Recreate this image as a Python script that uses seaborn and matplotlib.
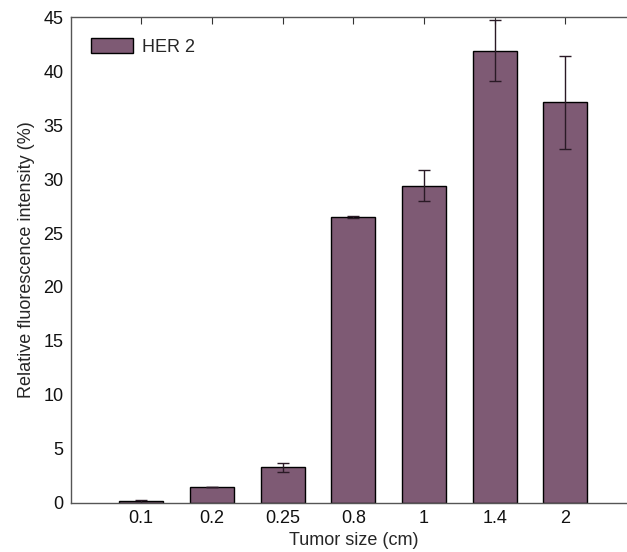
import numpy as np
import pandas as pd
import matplotlib
matplotlib.use("Agg")
import matplotlib.pyplot as plt
import seaborn as sns

# data
sizes = ["0.1", "0.2", "0.25", "0.8", "1", "1.4", "2"]
intensity = [0.15, 1.5, 3.3, 26.5, 29.4, 41.9, 37.1]
err = [0.12, 0.0, 0.4, 0.12, 1.4, 2.8, 4.3]

df = pd.DataFrame({"size": sizes, "intensity": intensity})

sns.set_style("white")
plt.rcParams["font.family"] = ["Liberation Sans", "DejaVu Sans"]
bar_color = "#7e5a74"

fig = plt.figure(figsize=(6.27, 5.52), dpi=100)
ax = fig.add_axes([0.1125, 0.089, 0.902, 0.880])

sns.barplot(data=df, x="size", y="intensity", color=bar_color, saturation=1,
            width=0.62, edgecolor="black", linewidth=1.0, label="HER 2", ax=ax)
ax.errorbar(np.arange(len(sizes)), intensity, yerr=err, fmt="none",
            ecolor="#2a1a26", elinewidth=1.0, capsize=4, capthick=1.0)

ax.set_xlim(-1, 7)
ax.set_ylim(0, 45)
ax.set_yticks(np.arange(0, 46, 5))
ax.tick_params(direction="in", length=5, labelsize=13, top=True, right=False,
               colors="#333333", labelcolor="#111111", pad=5)
for s in ax.spines.values():
    s.set_color("#555555")
    s.set_linewidth(1.0)

ax.set_xlabel("Tumor size (cm)", fontsize=13, labelpad=4)
ax.set_ylabel("Relative fluorescence intensity (%)", fontsize=13, labelpad=6)

ax.legend(loc="upper left", frameon=False, fontsize=13, handlelength=2.3,
          handleheight=0.9, borderaxespad=0.75, handletextpad=0.5)

fig.savefig("out.png", dpi=100)
